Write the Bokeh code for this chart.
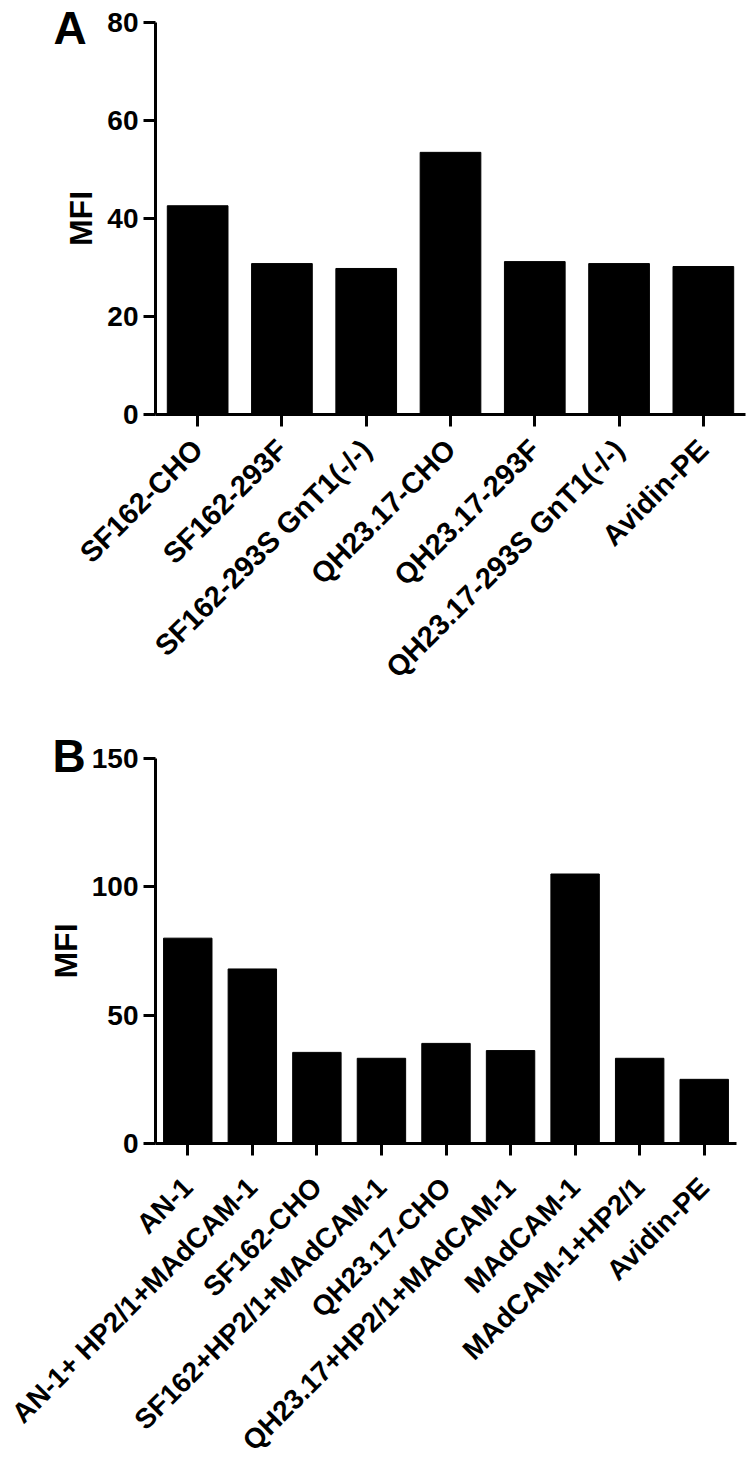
import math
from bokeh.plotting import figure
from bokeh.layouts import column
from bokeh.models import FixedTicker, Label, Range1d, LinearAxis
from bokeh.embed import file_html
from bokeh.resources import INLINE

# ---- data ----
cats_a = ["SF162-CHO", "SF162-293F", "SF162-293S GnT1(-/-)", "QH23.17-CHO",
          "QH23.17-293F", "QH23.17-293S GnT1(-/-)", "Avidin-PE"]
mfi_a = [42.6, 30.8, 29.8, 53.5, 31.2, 30.8, 30.2]
ticks_a = [0, 20, 40, 60, 80]

cats_b = ["AN-1", "AN-1+ HP2/1+MAdCAM-1", "SF162-CHO", "SF162+HP2/1+MAdCAM-1",
          "QH23.17-CHO", "QH23.17+HP2/1+MAdCAM-1", "MAdCAM-1", "MAdCAM-1+HP2/1",
          "Avidin-PE"]
mfi_b = [80, 68, 35.5, 33.2, 39, 36.2, 105, 33.2, 25]
ticks_b = [0, 50, 100, 150]

FONT = "Liberation Sans"
W = 750


def make_panel(cats, vals, ticks, letter, height, axis_top, axis_bottom,
               x_left, x_right, bar_width, xlab_size, xlab_standoff,
               letter_size, letter_x, letter_y):
    n = len(cats)
    idx = list(range(n))
    # the plotting frame fills the whole canvas; map data so that the
    # axes land where the reference has them
    step = (x_right - x_left) / n
    x0 = -0.5 - x_left / step
    x1 = n - 0.5 + (W - x_right) / step
    ymax = ticks[-1]
    unit = (axis_bottom - axis_top) / ymax
    y0 = -(height - axis_bottom) / unit
    y1 = ymax + axis_top / unit

    p = figure(x_range=Range1d(x0, x1), y_range=Range1d(y0, y1),
               width=W, height=height,
               x_axis_location=None, y_axis_location=None,
               output_backend="svg", toolbar_location=None,
               min_border_left=0, min_border_right=0, min_border_top=0,
               min_border_bottom=0)
    p.vbar(x=idx, top=vals, bottom=0, width=bar_width, fill_color="black",
           line_color="black")
    for g in p.grid:
        g.visible = False
    p.outline_line_color = None
    p.background_fill_color = "white"
    p.border_fill_color = "white"

    yax = LinearAxis(fixed_location=-0.5, bounds=(0, ymax),
                     ticker=FixedTicker(ticks=ticks))
    xax = LinearAxis(fixed_location=0, bounds=(-0.5, n - 0.5),
                     ticker=FixedTicker(ticks=idx))
    p.add_layout(yax, "left")
    p.add_layout(xax, "below")

    xax.major_label_overrides = {i: c for i, c in zip(idx, cats)}
    xax.major_label_orientation = math.pi / 4
    xax.major_label_standoff = xlab_standoff
    xax.major_label_text_font_size = xlab_size

    for ax in (xax, yax):
        ax.axis_line_width = 3
        ax.axis_line_color = "black"
        ax.major_tick_line_width = 3
        ax.major_tick_line_color = "black"
        ax.major_tick_out = 12
        ax.major_tick_in = 0
        ax.minor_tick_line_color = None
        ax.major_label_text_font = FONT
        ax.major_label_text_font_style = "bold"
        ax.major_label_text_color = "black"

    yax.major_label_text_font_size = "28px"
    yax.major_label_standoff = 5
    yax.axis_label = "MFI"
    yax.axis_label_text_font = FONT
    yax.axis_label_text_font_style = "bold"
    yax.axis_label_text_font_size = "32px"
    yax.axis_label_text_color = "black"
    yax.axis_label_standoff = 5

    p.add_layout(Label(x=letter_x, y=letter_y,
                       x_units="screen", y_units="screen",
                       text=letter, text_font=FONT, text_font_style="bold",
                       text_font_size=letter_size, text_color="black",
                       text_baseline="alphabetic", text_align="left"))
    return p


pa = make_panel(cats_a, mfi_a, ticks_a, "A", height=720, axis_top=22,
                axis_bottom=414, x_left=155, x_right=745, bar_width=0.72,
                xlab_size="29px", xlab_standoff=18,
                letter_size="46px", letter_x=53, letter_y=720 - 27)
pb = make_panel(cats_b, mfi_b, ticks_b, "B", height=741, axis_top=38,
                axis_bottom=423, x_left=155, x_right=736, bar_width=0.75,
                xlab_size="28px", xlab_standoff=27,
                letter_size="46px", letter_x=52, letter_y=741 - 35)

layout = column(pa, pb, spacing=0)
open("out.html", "w").write(file_html(layout, INLINE))
